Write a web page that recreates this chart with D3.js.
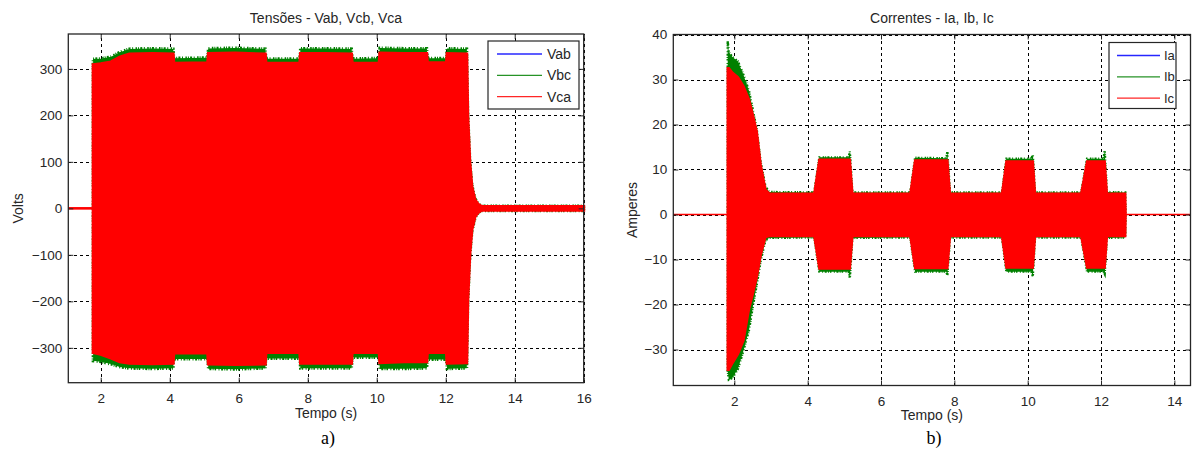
<!DOCTYPE html>
<html>
<head>
<meta charset="utf-8">
<script src="https://cdn.jsdelivr.net/npm/d3@7"></script>
<style>
  html, body { margin: 0; padding: 0; background: #fff; }
  svg { display: block; }
  text { font-family: "Liberation Sans", Arial, sans-serif; fill: #262626; }
</style>
</head>
<body>
<script>
// ---------- Tensões (voltages) ----------
const vTicksX = [2, 4, 6, 8, 10, 12, 14, 16];
const vTicksY = [-300, -200, -100, 0, 100, 200, 300];
const vSeries = ["Vab", "Vbc", "Vca"];

// envelope of the phase-to-phase voltages (peak values, V)
const vTime    = [1.78, 2.00, 2.30, 2.55, 2.83, 3.50, 4.10, 4.12, 5.10, 5.12, 5.90, 6.77, 6.79, 7.77, 7.79, 8.50, 9.27, 9.29, 10.07, 10.09, 10.80, 11.45, 11.47, 12.02, 12.04, 12.61, 12.64, 12.70, 12.76, 12.85, 12.95, 13.05, 16.00];
const vabUpper = [305, 308, 312, 322, 329, 330, 329, 309, 310, 330, 331, 329, 309, 309, 330, 330, 329, 309, 309, 331, 330, 330, 310, 310, 330, 329, 195, 96, 45, 17, 7, 4, 4];
const vabLower = [-306, -311, -318, -327, -330, -331, -330, -308, -308, -332, -333, -332, -307, -307, -330, -330, -330, -307, -307, -329, -327, -327, -307, -307, -330, -329, -195, -96, -45, -17, -7, -4, -4];
const vbcUpper = [321, 322, 326, 336, 343, 344, 343, 323, 324, 344, 345, 343, 322, 322, 344, 344, 343, 322, 323, 345, 344, 344, 323, 323, 344, 343, 209, 105, 51, 21, 9, 5, 5];
const vbcLower = [-328, -330, -335, -341, -344, -345, -344, -324, -324, -345, -346, -344, -323, -323, -344, -344, -344, -321, -321, -345, -345, -344, -325, -325, -345, -344, -209, -105, -51, -21, -9, -5, -5];
const vcaUpper = [309, 311, 315, 325, 332, 333, 332, 312, 313, 333, 334, 332, 312, 312, 333, 333, 332, 312, 312, 334, 333, 333, 313, 313, 333, 332, 198, 98, 46, 18, 8, 4, 4];
const vcaLower = [-310, -314, -322, -330, -333, -334, -333, -311, -311, -335, -336, -335, -310, -310, -333, -333, -333, -310, -310, -332, -330, -330, -310, -310, -333, -332, -198, -98, -46, -18, -8, -4, -4];
// supply off before start-up
const vIdleTime = [1.06, 1.78];
const vIdle     = [0, 0];

// ---------- Correntes (currents) ----------
const iTicksX = [2, 4, 6, 8, 10, 12, 14];
const iTicksY = [-30, -20, -10, 0, 10, 20, 30, 40];
const iSeries = ["Ia", "Ib", "Ic"];

const iTime   = [1.82, 1.85, 1.95, 2.10, 2.25, 2.40, 2.51, 2.61, 2.72, 2.85, 2.95, 4.18, 4.32, 5.12, 5.15, 5.22, 6.80, 6.93, 7.78, 7.81, 7.88, 9.30, 9.42, 10.10, 10.14, 10.20, 11.46, 11.62, 12.07, 12.10, 12.16, 12.62, 12.66, 12.67];
const iaUpper = [32.0, 32.0, 31.0, 30.0, 28.0, 25.0, 21.5, 18.0, 10.5, 5.2, 4.4, 4.4, 11.8, 11.8, 11.8, 4.4, 4.4, 11.7, 11.7, 11.7, 4.4, 4.4, 11.6, 11.6, 11.6, 4.4, 4.4, 11.6, 11.6, 11.6, 4.4, 4.4, 4.4, 0];
const iaLower = [-34.6, -34.3, -32.6, -30.6, -27.6, -20.6, -17.2, -13.7, -8.8, -4.8, -4.6, -4.6, -11.8, -11.8, -11.8, -4.6, -4.6, -11.7, -11.7, -11.7, -4.6, -4.6, -11.6, -11.6, -11.6, -4.6, -4.6, -11.6, -11.6, -11.6, -4.6, -4.6, -4.6, 0];
const ibUpper = [38.5, 36.0, 35.0, 34.0, 31.0, 27.5, 23.0, 19.0, 11.6, 6.2, 5.0, 4.9, 12.7, 12.7, 14.0, 4.9, 4.9, 12.6, 12.5, 13.9, 4.9, 4.9, 12.4, 12.4, 13.2, 4.9, 4.9, 12.4, 12.4, 14.3, 5.0, 4.9, 4.9, 0];
const ibLower = [-34.7, -36.7, -36.3, -34.3, -30.2, -25.7, -20.2, -15.7, -10.2, -5.7, -5.2, -5.1, -12.7, -12.7, -14.2, -5.2, -5.1, -12.7, -12.7, -13.5, -5.1, -5.1, -12.7, -12.7, -13.7, -5.1, -5.1, -12.7, -12.7, -13.2, -5.2, -5.1, -5.1, 0];
const icUpper = [32.5, 32.5, 31.5, 30.5, 28.5, 25.5, 22.0, 18.5, 11.0, 5.5, 4.7, 4.6, 12.2, 12.2, 12.2, 4.6, 4.6, 12.0, 12.0, 12.0, 4.6, 4.6, 11.8, 11.8, 11.8, 4.6, 4.6, 11.8, 11.8, 11.8, 4.6, 4.6, 4.6, 0];
const icLower = [-34.5, -34.5, -33.0, -31.0, -28.0, -21.0, -17.5, -14.0, -9.0, -5.0, -4.8, -4.8, -12.0, -12.0, -12.0, -4.8, -4.8, -11.9, -11.9, -11.9, -4.8, -4.8, -11.8, -11.8, -11.8, -4.8, -4.8, -11.8, -11.8, -11.8, -4.8, -4.8, -4.8, 0];
// motor disconnected before and after the run
const iIdleTime = [0.336, 1.82, 12.67, 14.44];
const iIdle     = [0, 0, 0, 0];

const colors = ["#0000ff", "#008000", "#ff0000"];
// outline of each envelope: phase B carries a broken outline for the ragged peaks
const outlineDash = [null, "1,1.2,2,1.6,1,2.4,1.5,1", null];

const svg = d3.select("body").append("svg")
  .attr("width", 1192).attr("height", 451);

function drawPanel(cfg) {
  const x = d3.scaleLinear().domain(cfg.xDomain).range(cfg.xRange);
  const y = d3.scaleLinear().domain(cfg.yDomain).range(cfg.yRange);
  const [x0, x1] = cfg.xRange;
  const [y1, y0] = cfg.yRange;   // y1 = bottom, y0 = top
  const g = svg.append("g");

  // dashed grid
  const grid = g.append("g").attr("stroke", "#000").attr("stroke-width", 1)
    .attr("stroke-dasharray", "3,3").attr("shape-rendering", "crispEdges");
  cfg.xTicks.forEach(t => grid.append("line")
    .attr("x1", Math.round(x(t)) + 0.5).attr("x2", Math.round(x(t)) + 0.5)
    .attr("y1", y1).attr("y2", y0));
  cfg.yTicks.forEach(t => grid.append("line")
    .attr("y1", Math.round(y(t)) + 0.5).attr("y2", Math.round(y(t)) + 0.5)
    .attr("x1", x0).attr("x2", x1));

  // signal envelopes (drawn in legend order, last one on top)
  const area = d3.area()
    .x(d => x(d.t)).y0(d => y(d.lo)).y1(d => y(d.hi));
  cfg.bands.forEach((b, k) => {
    const pts = cfg.time.map((t, i) => ({ t, hi: b.hi[i], lo: b.lo[i] }));
    const p = g.append("path").datum(pts)
      .attr("fill", colors[k]).attr("stroke", colors[k])
      .attr("stroke-width", k === 0 ? 0.8 : cfg.fuzz)
      .attr("d", area);
    if (outlineDash[k]) p.attr("stroke-dasharray", outlineDash[k]);
  });

  // idle segments at zero
  const line = d3.line().x(d => x(d.t)).y(d => y(d.v));
  for (let i = 0; i + 1 < cfg.idleTime.length; i += 2) {
    const seg = [
      { t: cfg.idleTime[i], v: cfg.idle[i] },
      { t: cfg.idleTime[i + 1], v: cfg.idle[i + 1] }
    ];
    g.append("path").datum(seg)
      .attr("fill", "none").attr("stroke", "#ff0000")
      .attr("stroke-width", cfg.idleWidth).attr("d", line);
  }

  // axes: ticks inside on all four sides
  const axB = d3.axisBottom(x).tickValues(cfg.xTicks).tickSize(-5).tickPadding(11).tickFormat(d3.format("d"));
  const axT = d3.axisTop(x).tickValues(cfg.xTicks).tickSize(-5).tickFormat("");
  const axL = d3.axisLeft(y).tickValues(cfg.yTicks).tickSize(-5).tickPadding(6).tickFormat(d3.format("d"));
  const axR = d3.axisRight(y).tickValues(cfg.yTicks).tickSize(-5).tickFormat("");
  const styleAxis = sel => {
    sel.select(".domain").remove();
    sel.selectAll(".tick line").attr("stroke", "#262626");
    sel.selectAll("text").attr("fill", "#262626")
      .style("font-family", '"Liberation Sans", Arial, sans-serif').style("font-size", "13.5px");
  };
  g.append("g").attr("transform", `translate(0,${y1})`).call(axB).call(styleAxis);
  g.append("g").attr("transform", `translate(0,${y0})`).call(axT).call(styleAxis);
  g.append("g").attr("transform", `translate(${x0},0)`).call(axL).call(styleAxis);
  g.append("g").attr("transform", `translate(${x1},0)`).call(axR).call(styleAxis);

  // frame
  g.append("rect")
    .attr("x", x0).attr("y", y0).attr("width", x1 - x0).attr("height", y1 - y0)
    .attr("fill", "none").attr("stroke", "#262626").attr("stroke-width", 1.3);

  // titles and labels
  const cx = (x0 + x1) / 2;
  g.append("text").attr("x", cx).attr("y", 23).attr("text-anchor", "middle")
    .style("font-size", "14px").text(cfg.title);
  g.append("text").attr("x", cx).attr("y", cfg.xLabelY).attr("text-anchor", "middle")
    .style("font-size", "14px").text("Tempo (s)");
  g.append("text")
    .attr("transform", `translate(${cfg.yLabelX},${(y0 + y1) / 2}) rotate(-90)`)
    .attr("text-anchor", "middle").attr("dy", "0.35em")
    .style("font-size", "14px").text(cfg.yLabel);
  g.append("text").attr("x", cx + 2).attr("y", 444).attr("text-anchor", "middle")
    .style("font-family", '"Liberation Serif", "Times New Roman", serif')
    .style("font-size", "18px").style("fill", "#000").text(cfg.caption);

  // legend
  const L = cfg.legend;
  const lg = g.append("g");
  lg.append("rect").attr("x", L.x).attr("y", L.y).attr("width", L.w).attr("height", L.h)
    .attr("fill", "#fff").attr("stroke", "#262626").attr("stroke-width", 1.2);
  cfg.series.forEach((name, k) => {
    const yy = L.y + 13 + k * 21.3;
    lg.append("line").attr("x1", L.x + L.l1).attr("x2", L.x + L.l2)
      .attr("y1", yy).attr("y2", yy).attr("stroke", colors[k]).attr("stroke-width", 1.3)
      .attr("stroke-opacity", 0.85);
    lg.append("text").attr("x", L.x + L.l2 + L.gap).attr("y", yy).attr("dy", "0.36em")
      .style("font-size", L.font).text(name);
  });
}

drawPanel({
  xDomain: [1.06, 16], xRange: [68.3, 583.7],
  yDomain: [-375, 375], yRange: [382.7, 34],
  xTicks: vTicksX, yTicks: vTicksY,
  time: vTime,
  bands: [
    { hi: vabUpper, lo: vabLower },
    { hi: vbcUpper, lo: vbcLower },
    { hi: vcaUpper, lo: vcaLower }
  ],
  fuzz: 3,
  idleTime: vIdleTime, idle: vIdle, idleWidth: 2.6,
  title: "Tensões - Vab, Vcb, Vca", yLabel: "Volts", yLabelX: 18,
  xLabelY: 418, caption: "a)",
  series: vSeries,
  legend: { x: 488, y: 41, w: 91, h: 68, l1: 9, l2: 54, gap: 5, font: "14px" }
});

drawPanel({
  xDomain: [0.336, 14.44], xRange: [673.3, 1190.5],
  yDomain: [-38, 40], yRange: [385.5, 34.5],
  xTicks: iTicksX, yTicks: iTicksY,
  time: iTime,
  bands: [
    { hi: iaUpper, lo: iaLower },
    { hi: ibUpper, lo: ibLower },
    { hi: icUpper, lo: icLower }
  ],
  fuzz: 2.4,
  idleTime: iIdleTime, idle: iIdle, idleWidth: 1.3,
  title: "Correntes - Ia, Ib, Ic", yLabel: "Amperes", yLabelX: 632,
  xLabelY: 420, caption: "b)",
  series: iSeries,
  legend: { x: 1109, y: 42.5, w: 67, h: 66, l1: 8, l2: 51, gap: 4, font: "13px" }
});
</script>
</body>
</html>
